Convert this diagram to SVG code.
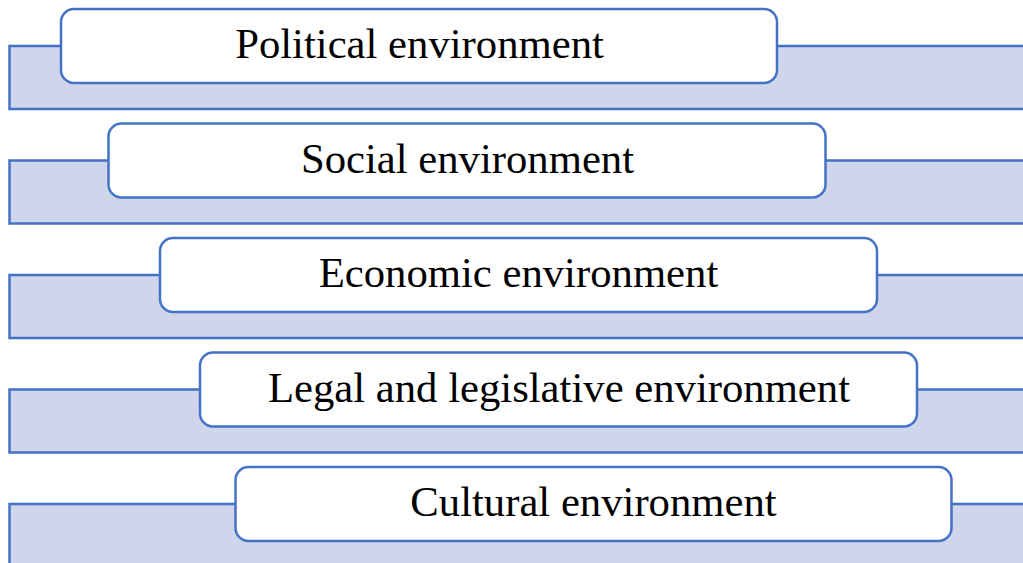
<svg xmlns="http://www.w3.org/2000/svg" width="1023" height="563" viewBox="0 0 1023 563">
  <style>
    .band { fill: #CFD5EA; stroke: #4472C4; stroke-width: 2.5; }
    .box { fill: #FFFFFF; stroke: #4472C4; stroke-width: 2.5; }
    .label { font-family: "Liberation Serif", "Times New Roman", serif; font-size: 42.7px; fill: #000000; text-anchor: middle; }
  </style>
  <rect width="1023" height="563" fill="#FFFFFF"/>

  <!-- background bands -->
  <g id="bands">
    <rect class="band" x="9.5" y="46" width="1030" height="63"/>
    <rect class="band" x="9.5" y="160.5" width="1030" height="63"/>
    <rect class="band" x="9.5" y="275" width="1030" height="63"/>
    <rect class="band" x="9.5" y="389.5" width="1030" height="63"/>
    <rect class="band" x="9.5" y="504" width="1030" height="70"/>
  </g>

  <g id="political">
    <rect class="box" x="61" y="9" width="716" height="74" rx="13"/>
    <text class="label" x="419.5" y="58">Political environment</text>
  </g>
  <g id="social">
    <rect class="box" x="108.5" y="123.5" width="717" height="74" rx="13"/>
    <text class="label" x="467.5" y="172.5">Social environment</text>
  </g>
  <g id="economic">
    <rect class="box" x="160" y="238" width="717" height="74" rx="13"/>
    <text class="label" x="518.5" y="287">Economic environment</text>
  </g>
  <g id="legal">
    <rect class="box" x="200" y="352.5" width="717" height="74" rx="13"/>
    <text class="label" x="559" y="401.5">Legal and legislative environment</text>
  </g>
  <g id="cultural">
    <rect class="box" x="235.5" y="467" width="716" height="74" rx="13"/>
    <text class="label" x="593.5" y="516">Cultural environment</text>
  </g>
</svg>
